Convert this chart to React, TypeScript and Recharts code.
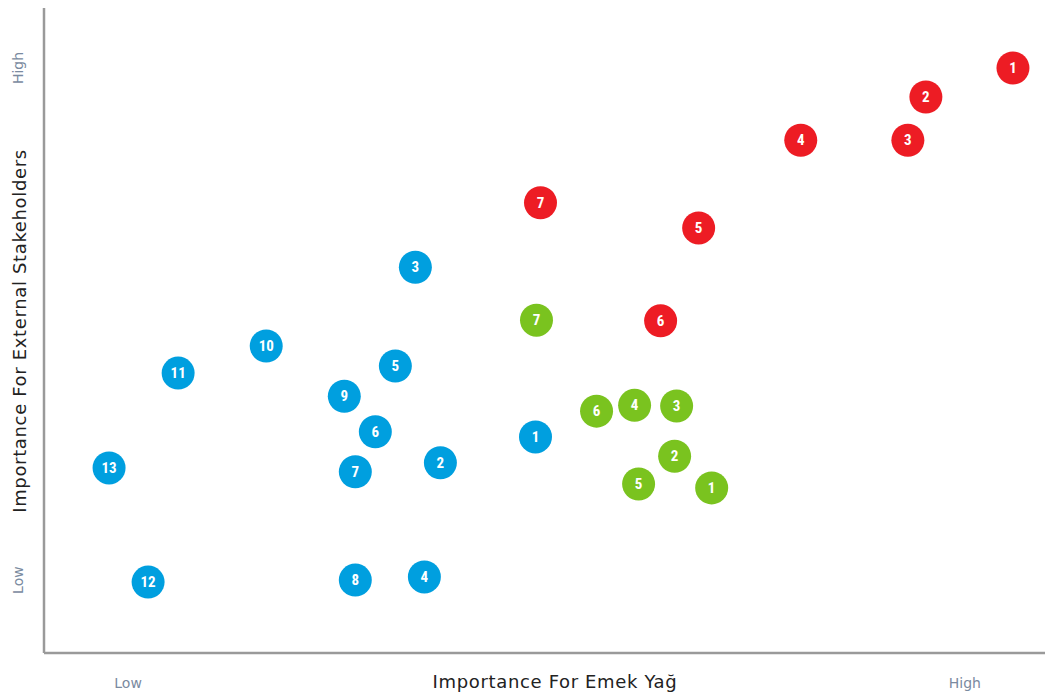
import React from 'react';
import { ScatterChart, Scatter, XAxis, YAxis } from 'recharts';

type Pt = { x: number; y: number; n: number };

const redPoints: Pt[] = [
  { x: 96.8, y: 90.7, n: 1 },
  { x: 88.1, y: 86.2, n: 2 },
  { x: 86.3, y: 79.5, n: 3 },
  { x: 75.6, y: 79.5, n: 4 },
  { x: 65.4, y: 65.9, n: 5 },
  { x: 61.6, y: 51.5, n: 6 },
  { x: 49.6, y: 69.8, n: 7 },
];

const greenPoints: Pt[] = [
  { x: 66.7, y: 25.6, n: 1 },
  { x: 63.0, y: 30.5, n: 2 },
  { x: 63.2, y: 38.3, n: 3 },
  { x: 59.0, y: 38.4, n: 4 },
  { x: 59.4, y: 26.2, n: 5 },
  { x: 55.2, y: 37.5, n: 6 },
  { x: 49.2, y: 51.6, n: 7 },
];

const bluePoints: Pt[] = [
  { x: 49.1, y: 33.5, n: 1 },
  { x: 39.6, y: 29.5, n: 2 },
  { x: 37.1, y: 59.8, n: 3 },
  { x: 38.0, y: 11.8, n: 4 },
  { x: 35.1, y: 44.5, n: 5 },
  { x: 33.1, y: 34.3, n: 6 },
  { x: 31.1, y: 28.1, n: 7 },
  { x: 31.1, y: 11.3, n: 8 },
  { x: 30.0, y: 39.8, n: 9 },
  { x: 22.2, y: 47.6, n: 10 },
  { x: 13.4, y: 43.4, n: 11 },
  { x: 10.4, y: 11.0, n: 12 },
  { x: 6.5, y: 28.7, n: 13 },
];

const xTickValues = [8.4, 92];
const xTickLabels = ['Low', 'High'];
const yTickValues = [11.3, 90.7];
const yTickLabels = ['Low', 'High'];

const xTitle = 'Importance For Emek Yağ';
const yTitle = 'Importance For External Stakeholders';

const RED = '#ED1C24';
const GREEN = '#7AC31F';
const BLUE = '#009FDF';
const AXIS = '#9a9a9a';
const TICK = '#7a8aa0';
const TITLE_FONT = "'DejaVu Sans', 'Open Sans', sans-serif";
const NUM_FONT = "'Liberation Sans Narrow', 'Roboto Condensed', Roboto, sans-serif";

const makeShape = (color: string) => (props: any) => {
  const { cx, cy, payload } = props;
  return (
    <g>
      <circle cx={cx} cy={cy} r={16.5} fill={color} />
      <text
        x={cx}
        y={cy}
        dy={5}
        textAnchor="middle"
        fill="#ffffff"
        fontFamily={NUM_FONT}
        fontWeight="bold"
        fontSize={15}
      >
        {payload.n}
      </text>
    </g>
  );
};

const XTick = (props: any) => {
  const { x, index } = props;
  return (
    <text x={x} y={688} textAnchor="middle" fill={TICK} fontFamily={TITLE_FONT} fontSize={14}>
      {xTickLabels[index] ?? ''}
    </text>
  );
};

const YTick = (props: any) => {
  const { y, index } = props;
  return (
    <text
      x={0}
      y={0}
      transform={`translate(23, ${y}) rotate(-90)`}
      textAnchor="middle"
      fill={TICK}
      fontFamily={TITLE_FONT}
      fontSize={14}
    >
      {yTickLabels[index] ?? ''}
    </text>
  );
};

const XTitle = () => (
  <text
    x={555}
    y={688}
    textAnchor="middle"
    fill="#222"
    fontFamily={TITLE_FONT}
    fontSize={18}
    letterSpacing={0.65}
  >
    {xTitle}
  </text>
);

const YTitle = () => (
  <text
    x={0}
    y={0}
    transform="translate(26, 331) rotate(-90)"
    textAnchor="middle"
    fill="#222"
    fontFamily={TITLE_FONT}
    fontSize={18}
    letterSpacing={0.65}
  >
    {yTitle}
  </text>
);

export default function App() {
  return (
    <div style={{ position: 'absolute', left: 0, top: 0, width: 1045, height: 692, background: '#fff' }}>
      <ScatterChart width={1045} height={692} margin={{ top: 8, right: 0, left: 0, bottom: 0 }}>
        <XAxis
          type="number"
          dataKey="x"
          domain={[0, 100]}
          ticks={xTickValues}
          height={39}
          tickLine={false}
          axisLine={{ stroke: AXIS, strokeWidth: 2.5 }}
          tick={<XTick />}
          label={<XTitle />}
        />
        <YAxis
          type="number"
          dataKey="y"
          domain={[0, 100]}
          ticks={yTickValues}
          width={44}
          tickLine={false}
          axisLine={{ stroke: AXIS, strokeWidth: 2.5 }}
          tick={<YTick />}
          label={<YTitle />}
        />
        <Scatter data={bluePoints} fill={BLUE} shape={makeShape(BLUE)} isAnimationActive={false} />
        <Scatter data={greenPoints} fill={GREEN} shape={makeShape(GREEN)} isAnimationActive={false} />
        <Scatter data={redPoints} fill={RED} shape={makeShape(RED)} isAnimationActive={false} />
      </ScatterChart>
    </div>
  );
}
